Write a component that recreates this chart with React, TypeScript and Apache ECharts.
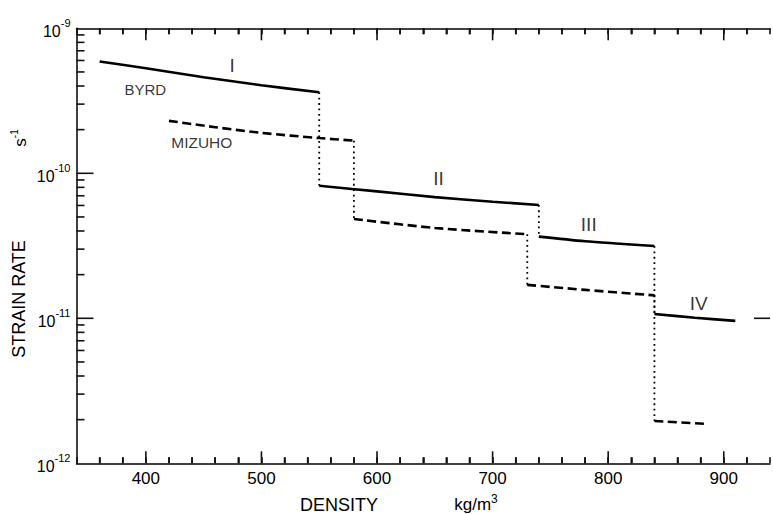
import React, { useEffect, useRef } from "react";
import * as echarts from "echarts";

// Density (kg/m^3) vs strain rate (s^-1)
const byrdI = [[360, 5.9e-10], [400, 5.3e-10], [450, 4.6e-10], [500, 4.05e-10], [550, 3.62e-10]];
const byrdII = [[550, 8.2e-11], [600, 7.5e-11], [650, 6.85e-11], [700, 6.37e-11], [740, 6.05e-11]];
const byrdIII = [[740, 3.66e-11], [780, 3.4e-11], [810, 3.27e-11], [840, 3.15e-11]];
const byrdIV = [[840, 1.07e-11], [875, 1.01e-11], [910, 9.6e-12]];

const mizuho1 = [[420, 2.3e-10], [460, 2.08e-10], [500, 1.9e-10], [550, 1.75e-10], [580, 1.68e-10]];
const mizuho2 = [[580, 4.84e-11], [650, 4.2e-11], [730, 3.8e-11]];
const mizuho3 = [[730, 1.7e-11], [780, 1.57e-11], [840, 1.44e-11]];
const mizuho4 = [[840, 1.96e-12], [885, 1.87e-12]];

const byrdSegments = [byrdI, byrdII, byrdIII, byrdIV];
const mizuhoSegments = [mizuho1, mizuho2, mizuho3, mizuho4];

// annotations anchored in data coordinates
const annotationText = ["I", "II", "III", "IV", "BYRD", "MIZUHO"];
const annotationDensity = [474.7, 653.2, 783.2, 878.4, 399.5, 448.4];
const annotationRate = [5.58e-10, 9.14e-11, 4.4e-11, 1.256e-11, 3.81e-10, 1.62e-10];
const annotationSize = [19, 19, 19, 19, 15, 15.5];

const densityMin = 340;
const densityMax = 940;
const rateMin = 1e-12;
const rateMax = 1e-9;
const densityMinorTicks = [360, 380, 420, 440, 460, 480, 520, 540, 560, 580, 620, 640, 660, 680, 720, 740, 760, 780, 820, 840, 860, 880, 920];
const densityMajorTicks = [400, 500, 600, 700, 800, 900];
const rateDecades = [1e-12, 1e-11, 1e-10];
const rateMinorMultipliers = [2, 3, 4, 5, 6, 7, 8, 9];
const rateMajorTicks = [1e-11, 1e-10];
const rightTicks = [1e-11];

const FONT = "Liberation Sans";
const INK = "#111";

function connectors(segs: number[][][]) {
  const out: number[][][] = [];
  for (let i = 0; i < segs.length - 1; i++) {
    const a = segs[i][segs[i].length - 1];
    const b = segs[i + 1][0];
    out.push([a, [a[0], b[1]]]);
  }
  return out;
}

function tickLine(x1: number, y1: number, x2: number, y2: number) {
  return { type: "line", shape: { x1, y1, x2, y2 }, style: { stroke: INK, lineWidth: 1.6 } };
}

export default function App() {
  const ref = useRef<HTMLDivElement>(null);
  useEffect(() => {
    if (!ref.current) return;
    const chart = echarts.init(ref.current, null, { renderer: "svg" });
    const series: any[] = [];
    [...connectors(byrdSegments), ...connectors(mizuhoSegments)].forEach((c) => {
      series.push({
        type: "line", data: c, showSymbol: false, silent: true, z: 2,
        lineStyle: { color: "#000", width: 1.8, type: [1.8, 3.6] },
      });
    });
    byrdSegments.forEach((s) =>
      series.push({
        type: "line", data: s, smooth: 0.3, showSymbol: false, silent: true, z: 3,
        lineStyle: { color: "#000", width: 2.6 },
      })
    );
    mizuhoSegments.forEach((s) =>
      series.push({
        type: "line", data: s, smooth: 0.3, showSymbol: false, silent: true, z: 3,
        lineStyle: { color: "#000", width: 2.6, type: [9, 4.5] },
      })
    );

    // annotation labels
    series.push({
      type: "scatter", silent: true, z: 5, symbolSize: 0,
      data: annotationText.map((t, i) => ({
        name: t,
        value: [annotationDensity[i], annotationRate[i]],
        label: { fontSize: annotationSize[i] },
      })),
      label: {
        show: true, position: "inside", formatter: "{b}", color: "#000", fontFamily: FONT,
      },
    });

    // axis ticks: [density, rate, kind]
    const tickData: number[][] = [];
    densityMinorTicks.forEach((v) => tickData.push([v, rateMin, 0]));
    densityMajorTicks.forEach((v) => tickData.push([v, rateMin, 1]));
    rateDecades.forEach((d) => rateMinorMultipliers.forEach((m) => tickData.push([densityMin, d * m, 2])));
    rateMajorTicks.forEach((v) => tickData.push([densityMin, v, 3]));
    rightTicks.forEach((v) => tickData.push([densityMax, v, 4]));
    series.push({
      type: "custom", z: 4,
      dimensions: ["d", "r", "k"],
      encode: { x: 0, y: 1 },
      data: tickData,
      renderItem: (_p: any, api: any) => {
        const kind = api.value(2);
        if (kind === 0 || kind === 1) {
          const len = kind === 0 ? 6 : 12;
          const b = api.coord([api.value(0), rateMin]);
          const t = api.coord([api.value(0), rateMax]);
          return {
            type: "group",
            children: [tickLine(b[0], b[1], b[0], b[1] - len), tickLine(t[0], t[1], t[0], t[1] + len)],
          };
        }
        if (kind === 2 || kind === 3) {
          const len = kind === 2 ? 8 : 17;
          const p = api.coord([densityMin, api.value(1)]);
          return tickLine(p[0], p[1], p[0] + len, p[1]);
        }
        const p = api.coord([densityMax, api.value(1)]);
        return tickLine(p[0] - 16, p[1], p[0], p[1]);
      },
    });

    const xTick = { show: true, inside: true, length: 6, lineStyle: { color: INK, width: 1.6 } };
    chart.setOption({
      animation: false,
      backgroundColor: "#fff",
      grid: { left: 76.5, top: 28.3, bottom: 50.7, right: -9.5, containLabel: false },
      xAxis: [
        {
          type: "value", min: densityMin, max: densityMax, interval: 20, position: "bottom",
          axisLine: { show: true, lineStyle: { color: "#000", width: 1.5 } },
          splitLine: { show: false }, axisTick: xTick,
          axisLabel: {
            margin: 7, color: "#000", fontFamily: FONT, fontSize: 17,
            formatter: (v: number) => (v % 100 === 0 ? String(v) : ""),
          },
        },
        {
          type: "value", min: densityMin, max: densityMax, interval: 20, position: "top",
          axisLine: { show: true, lineStyle: { color: "#000", width: 1.5 } },
          splitLine: { show: false }, axisTick: xTick, axisLabel: { show: false },
        },
      ],
      yAxis: {
        type: "log", logBase: 10, min: rateMin, max: rateMax,
        axisLine: { show: true, lineStyle: { color: "#000", width: 1.5 } },
        splitLine: { show: false }, axisTick: { show: false },
        axisLabel: {
          margin: 6, color: "#000", fontFamily: FONT,
          formatter: (v: number) => `{a|10}{b|${Math.round(Math.log10(v))}}`,
          rich: {
            a: { fontSize: 16, fontFamily: FONT, color: "#000", lineHeight: 22, verticalAlign: "bottom" },
            b: { fontSize: 11, fontFamily: FONT, color: "#000", lineHeight: 22, verticalAlign: "top" },
          },
        },
      },
      graphic: [
        { type: "text", x: 19, y: 299, rotation: Math.PI / 2, style: { text: "STRAIN RATE", font: `18px ${FONT}`, fill: "#000", align: "center", verticalAlign: "middle" } },
        { type: "text", x: 19, y: 138, rotation: Math.PI / 2, style: { text: "{a|s}{b|-1}", align: "center", verticalAlign: "middle", rich: { a: { fontSize: 17, fontFamily: FONT, fill: "#000", lineHeight: 20, verticalAlign: "bottom" }, b: { fontSize: 10, fontFamily: FONT, fill: "#000", lineHeight: 20, verticalAlign: "top" } } } },
        { type: "text", x: 339, y: 505, style: { text: "DENSITY", font: `18px ${FONT}`, fill: "#000", align: "center", verticalAlign: "middle" } },
        { type: "text", x: 476, y: 503, style: { text: "{a|kg/m}{b|3}", align: "center", verticalAlign: "middle", rich: { a: { fontSize: 17, fontFamily: FONT, fill: "#000", lineHeight: 20, verticalAlign: "bottom" }, b: { fontSize: 12, fontFamily: FONT, fill: "#000", lineHeight: 20, verticalAlign: "top" } } } },
      ],
      series,
    });
    return () => chart.dispose();
  }, []);
  return <div ref={ref} style={{ position: "fixed", left: 0, top: 0, width: 773, height: 514 }} />;
}
